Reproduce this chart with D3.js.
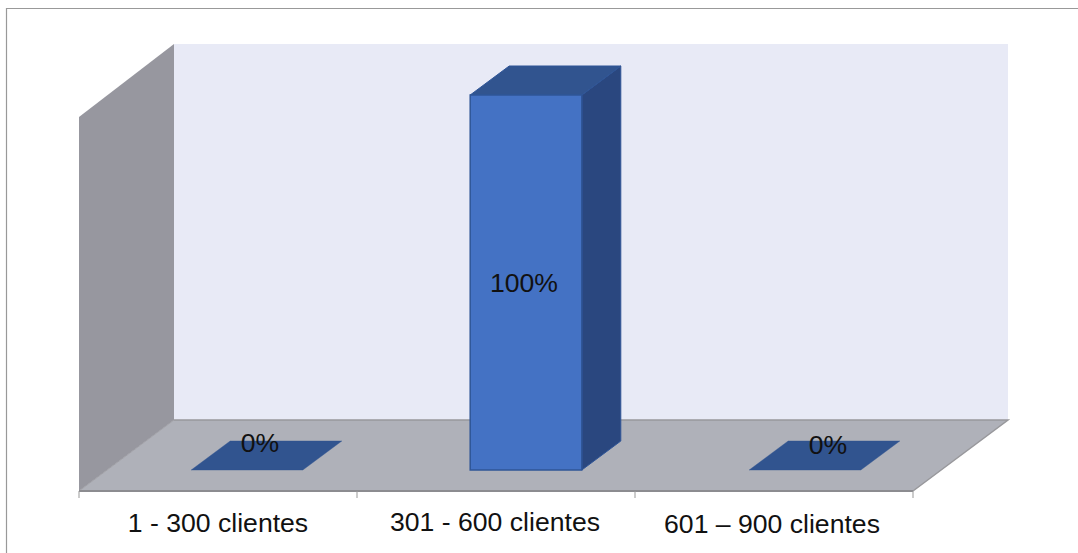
<!DOCTYPE html>
<html><head><meta charset="utf-8">
<script src="https://cdn.jsdelivr.net/npm/d3@7"></script>
<style>html,body{margin:0;background:#fff}svg{display:block}text{font-family:"Liberation Sans",Arial,sans-serif;fill:#111}</style>
</head><body><svg id="c" width="1078" height="553"></svg>
<script>
const categories = ["1 - 300 clientes","301 - 600 clientes","601 – 900 clientes"];
const values = [0,100,0];
const valueLabels = ["0%","100%","0%"];

const svg = d3.select("#c");
const floorL=79, floorR=913, floorY=491, dx=95, dy=-71, wallH=376;
const tickPos = d3.scaleBand().domain(categories).range([floorL,floorR]);
const barX = d3.scaleBand().domain(categories).range([107.5,944.5]).paddingInner(0.6).paddingOuter(0.3);
const y = d3.scaleLinear().domain([0,100]).range([0,375]);
const line = d3.line();
const poly=(pts,fill,stroke,sw)=>svg.append("path").attr("d",line(pts)+"Z").attr("fill",fill).attr("stroke",stroke||"none").attr("stroke-width",sw||0);

svg.append("path").attr("d","M6.5 553V8.5H1078").attr("fill","none").attr("stroke","#999").attr("stroke-width",1.2);

// back wall, side wall, floor
poly([[floorL+dx,floorY+dy-wallH],[floorR+dx,floorY+dy-wallH],[floorR+dx,floorY+dy],[floorL+dx,floorY+dy]],"#E8EAF6");
poly([[floorL,floorY-wallH+2],[floorL+dx,floorY+dy-wallH],[floorL+dx,floorY+dy],[floorL,floorY]],"#97979F");
poly([[floorL,floorY],[floorL+dx,floorY+dy],[floorR+dx,floorY+dy],[floorR,floorY]],"#AFB1B9");
svg.append("path").attr("d",line([[floorL,floorY],[floorL+dx,floorY+dy]])).attr("fill","none").attr("stroke","#A0A0A6").attr("stroke-width",1);
svg.append("path").attr("d",line([[floorL+dx,floorY+dy],[floorR+dx,floorY+dy],[floorR,floorY]])).attr("fill","none").attr("stroke","#98989C").attr("stroke-width",1.5);
svg.append("path").attr("d",line([[floorL,floorY],[floorR,floorY]])).attr("stroke","#8C8C90").attr("stroke-width",2);

// axis ticks
const ticks=[floorL,...categories.map(c=>tickPos(c)+tickPos.bandwidth())];
svg.selectAll("line.t").data(ticks).join("line").attr("x1",d=>d).attr("x2",d=>d).attr("y1",floorY).attr("y2",floorY+7).attr("stroke","#999");

// bars
const fy0=470, by0=441, shift=39;
categories.forEach((c,i)=>{
  const x0=barX(c), x1=x0+barX.bandwidth(), h=y(values[i]);
  if(h>0){
    poly([[x1,fy0],[x1+shift,by0],[x1+shift,by0-h],[x1,fy0-h]],"#2A477F","#2F5597",1);
    poly([[x0,fy0-h],[x0+shift,by0-h],[x1+shift,by0-h],[x1,fy0-h]],"#31548F","#2F5597",1);
    poly([[x0,fy0],[x1,fy0],[x1,fy0-h],[x0,fy0-h]],"#4472C4","#2F5597",1.5);
  } else {
    poly([[x0,fy0],[x0+shift,by0],[x1+shift,by0],[x1,fy0]],"#31548F","#31548F",0.4);
  }
});

// labels
const labelPos=[[260,452],[524,292],[828,454]];
svg.selectAll("text.v").data(valueLabels).join("text").attr("x",(d,i)=>labelPos[i][0]).attr("y",(d,i)=>labelPos[i][1]).attr("text-anchor","middle").attr("font-size",26.6).text(d=>d);
const catPos=[[218,532],[495,531],[772,533]];
svg.selectAll("text.c").data(categories).join("text").attr("x",(d,i)=>catPos[i][0]).attr("y",(d,i)=>catPos[i][1]).attr("text-anchor","middle").attr("font-size",26.6).text(d=>d);
</script></body></html>
